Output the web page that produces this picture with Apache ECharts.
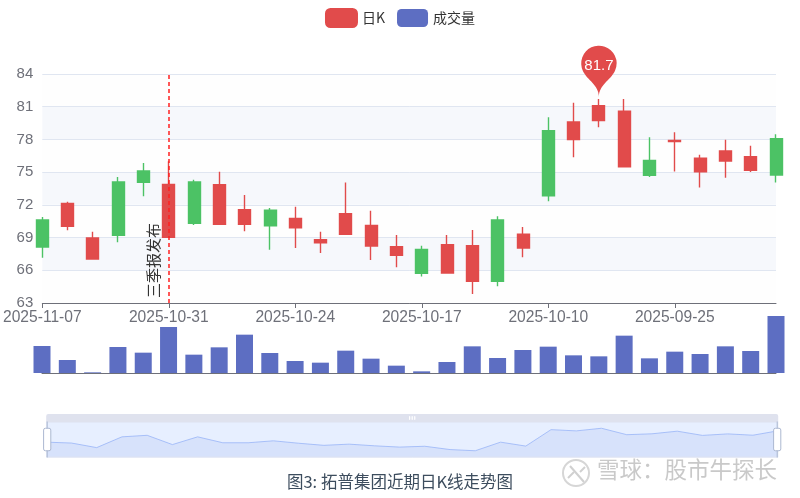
<!DOCTYPE html>
<html><head><meta charset="utf-8">
<style>html,body{margin:0;padding:0;background:#fff}#c{width:800px;height:498px}</style>
<script src="https://cdn.jsdelivr.net/npm/echarts@6/dist/echarts.min.js"></script>
</head><body><div id="c"></div>
<script>
const dates=['2025-11-07','2025-11-06','2025-11-05','2025-11-04','2025-11-03','2025-10-31','2025-10-30','2025-10-29','2025-10-28','2025-10-27','2025-10-24','2025-10-23','2025-10-22','2025-10-21','2025-10-20','2025-10-17','2025-10-16','2025-10-15','2025-10-14','2025-10-13','2025-10-10','2025-10-09','2025-09-30','2025-09-29','2025-09-26','2025-09-25','2025-09-24','2025-09-23','2025-09-22','2025-09-19'];
const opens=[70.61,70.03,67.03,74.09,75.1,69.02,74.09,70.21,70.21,71.5,69.9,68.53,69.3,68.22,67.37,67.92,65.75,64.98,70.61,68.04,78.8,78.0,79.72,75.5,76.08,77.8,75.04,76.02,75.16,78.07];
const closes=[68.13,72.14,68.96,69.2,74.06,73.88,70.3,73.85,71.56,70.09,70.76,68.8,71.19,70.12,68.16,65.72,68.35,68.26,64.98,69.3,72.84,79.6,81.1,80.6,74.7,77.9,76.27,76.94,76.42,74.74];
const lows=[67.15,69.66,67.03,68.56,72.78,69.02,70.15,70.21,69.57,67.89,68.04,67.58,69.3,66.94,66.27,65.44,65.75,63.82,64.53,67.19,72.32,76.36,79.11,75.44,74.55,75.07,73.6,74.49,75.01,74.06];
const highs=[70.88,72.29,69.54,74.55,75.84,75.99,74.31,75.04,72.9,71.71,71.83,69.54,74.06,71.47,69.23,68.26,69.23,69.69,70.95,69.97,80.03,81.37,81.7,81.7,78.19,78.65,76.6,77.98,77.43,78.47];
const volumes=[81,39,2,78,61,138,55,77,115,60,36,31,67,43,22,5,33,80,45,69,79,53,50,112,44,64,57,80,66,171];
const yTicks={min:63,max:84,interval:3};
const RED='#e14b4b',GREEN='#4cc265',BLUE='#5d6ec2',AXIS='#6e7079',MARK='#ff2020';
const kData=dates.map((d,i)=>[opens[i],closes[i],lows[i],highs[i]]);
const FONT='"Liberation Sans",Arial,sans-serif', CJK='"Noto Sans CJK SC",sans-serif';
const HANDLE='path://M-9.35,34.56V42m0-40V9.5m-2,0h4a2,2,0,0,1,2,2v21a2,2,0,0,1-2,2h-4a2,2,0,0,1-2-2v-21A2,2,0,0,1-11.35,9.5Z';
const chart=echarts.init(document.getElementById('c'),null,{renderer:'canvas'});
chart.setOption({
 animation:false,
 legend:{top:3,left:'center',itemWidth:31,itemHeight:18,itemGap:12,textStyle:{fontSize:14,color:'#333',fontFamily:CJK},data:['日K','成交量']},
 title:{text:'图3: 拓普集团近期日K线走势图',left:'center',top:468,textStyle:{fontSize:16.5,fontWeight:'normal',color:'#3d4d5e',fontFamily:CJK}},
 grid:[{left:42,right:24,top:74,height:229},{left:42,right:24,top:316,height:57}],
 xAxis:[
  {type:'category',gridIndex:0,data:dates,boundaryGap:false,axisLine:{lineStyle:{color:AXIS,width:1}},axisTick:{show:true,interval:4,lineStyle:{color:AXIS}},axisLabel:{interval:4,fontSize:15.6,color:AXIS,fontFamily:FONT,margin:7},splitLine:{show:false}},
  {type:'category',gridIndex:1,data:dates,boundaryGap:false,axisLine:{lineStyle:{color:AXIS}},axisTick:{show:false},axisLabel:{show:false},splitLine:{show:false}}
 ],
 yAxis:[
  {type:'value',gridIndex:0,min:yTicks.min,max:yTicks.max,interval:yTicks.interval,axisLine:{show:false},axisTick:{show:false},axisLabel:{fontSize:15,color:AXIS,fontFamily:FONT,margin:9},splitLine:{show:true,lineStyle:{color:'#e0e6f1'}},splitArea:{show:true,areaStyle:{color:['rgba(250,250,250,0.2)','rgba(210,219,238,0.2)']}}},
  {type:'value',gridIndex:1,min:0,max:171,show:false,splitLine:{show:false}}
 ],
 dataZoom:[{type:'slider',xAxisIndex:[0,1],start:0,end:100,left:43,right:25,top:414,height:36,
   showDetail:false,brushSelect:true,borderColor:'#dde2f0',
   fillerColor:'rgba(135,175,274,0.2)',backgroundColor:'rgba(47,69,84,0)',
   handleIcon:HANDLE,handleSize:'100%',handleStyle:{color:'#fff',borderColor:'#acb8d1'},
   dataBackground:{lineStyle:{color:'#9db6f5',width:0.8,opacity:1},areaStyle:{color:'#ecefFb',opacity:1}},
   selectedDataBackground:{lineStyle:{color:'#9db6f5',width:0.8,opacity:1},areaStyle:{color:'#ecefFb',opacity:1}},
   moveHandleSize:8,moveHandleStyle:{color:'#dfe2ee',opacity:1}}],
 series:[
  {name:'日K',type:'candlestick',xAxisIndex:0,yAxisIndex:0,data:kData,barWidth:12.5,clip:false,
   itemStyle:{color:RED,color0:GREEN,borderColor:RED,borderColor0:GREEN,borderWidth:1.4},
   markPoint:{symbol:'pin',symbolSize:59,symbolOffset:[0,-2],label:{color:'#fff',fontSize:15,fontFamily:FONT},itemStyle:{color:RED},
     data:[{name:'最高',type:'max',valueDim:'highest'}]},
   markLine:{silent:true,symbol:['none','none'],animation:false,
     lineStyle:{color:MARK,type:[4,3],width:1.5},
     label:{show:true,formatter:'三季报发布',position:'insideStartTop',padding:[0,0,3,0],fontSize:15,color:'#333',fontFamily:CJK},
     data:[{xAxis:'2025-10-31'}]}},
  {name:'成交量',type:'bar',xAxisIndex:1,yAxisIndex:1,data:volumes,barWidth:17,clip:false,itemStyle:{color:BLUE}}
 ],
 graphic:[
  {type:'circle',shape:{cx:576,cy:473,r:13},style:{fill:'none',stroke:'#d6d6d6',lineWidth:2},silent:true},
  {type:'polyline',shape:{points:[[570,466],[577,474],[584,482]]},style:{fill:'none',stroke:'#d0d0d0',lineWidth:2},silent:true},
  {type:'polyline',shape:{points:[[568,478],[574,472]]},style:{fill:'none',stroke:'#d0d0d0',lineWidth:2},silent:true},
  {type:'polyline',shape:{points:[[580,472],[585,467]]},style:{fill:'none',stroke:'#d0d0d0',lineWidth:2},silent:true},
  {type:'text',left:597,top:458,style:{text:'雪球：股市牛探长',fontSize:22.5,fill:'#c9c9c9',fontFamily:CJK},silent:true}
 ]
});
</script></body></html>
